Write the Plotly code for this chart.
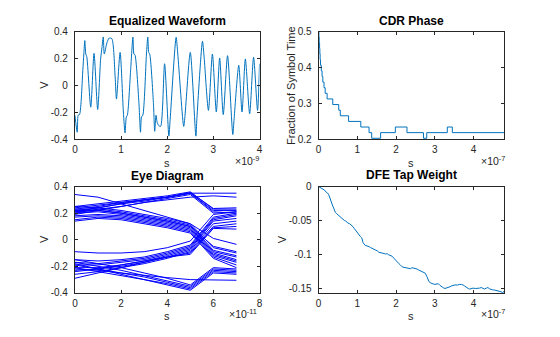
import plotly.graph_objects as go

W, H = 560, 337

# ---------------- data ----------------
# Equalized waveform (time in 1e-9 s, volts)
WAVE_T = [0, 0.05, 0.071, 0.1, 0.171, 0.193, 0.214, 0.236, 0.257, 0.343, 0.414, 0.493, 0.557, 0.586,
          0.614, 0.636, 0.693, 0.743, 0.8, 0.871, 0.9, 0.979, 1.05, 1.086, 1.114, 1.136, 1.207, 1.257,
          1.279, 1.3, 1.386, 1.421, 1.443, 1.471, 1.55, 1.579, 1.6, 1.621, 1.7, 1.729, 1.757, 1.779,
          1.814, 1.857, 1.943, 2.036, 2.064, 2.193, 2.229, 2.357, 2.386, 2.5, 2.621, 2.643, 2.764,
          2.8, 2.893, 2.979, 3.064, 3.136, 3.214, 3.307, 3.421, 3.45, 3.55, 3.621, 3.693, 3.786,
          3.871, 3.957, 4.0]
WAVE_V = [-0.221, -0.347, -0.221, -0.216, 0.113, 0.233, 0.333, 0.233, 0.214, -0.161, 0.238, -0.178,
          0.197, 0.281, 0.360, 0.233, 0.316, 0.352, 0.347, 0.066, -0.101, 0.245, -0.197, -0.352,
          -0.233, -0.221, 0.113, 0.359, 0.233, 0.228, -0.125, -0.347, -0.233, -0.221, 0.233, 0.359,
          0.245, 0.233, -0.125, -0.340, -0.221, -0.269, -0.297, -0.304, 0.161, -0.376, -0.250, 0.357,
          0.233, -0.304, -0.221, 0.245, -0.376, -0.245, 0.328, 0.209, -0.185, 0.233, -0.197, 0.204,
          -0.216, 0.221, -0.364, -0.245, 0.149, -0.197, 0.197, -0.209, 0.209, -0.185, 0.161]

# CDR phase (time in 1e-7 s, fraction of symbol time), stepwise
CDR_T = [0, 0.008, 0.016, 0.026, 0.033, 0.04, 0.05, 0.07, 0.09, 0.11, 0.14, 0.17, 0.22, 0.366,
         0.52, 0.56, 0.774, 1.089, 1.302, 1.37, 1.6, 1.98, 2.28, 2.706, 2.79, 3.32, 3.45, 4.79]
CDR_V = [0.5, 0.484375, 0.46875, 0.453125, 0.4375, 0.421875, 0.40625, 0.390625, 0.375, 0.359375,
         0.34375, 0.328125, 0.3125, 0.296875, 0.28125, 0.265625, 0.25, 0.234375, 0.21875, 0.203125,
         0.21875, 0.234375, 0.21875, 0.203125, 0.21875, 0.234375, 0.21875, 0.21875]

# Eye diagram (time in 1e-11 s), one list of volts per trace
EYE_T = [0, 1, 2, 3, 4, 5, 6, 7]
EYE_TRACES = [
    [0.25, 0.27, 0.29, 0.31, 0.33, 0.36, 0.23, 0.23],
    [0.23, 0.25, 0.28, 0.30, 0.32, 0.35, 0.22, 0.22],
    [0.21, 0.24, 0.27, 0.29, 0.32, 0.35, 0.21, 0.20],
    [0.19, 0.22, 0.25, 0.28, 0.31, 0.34, 0.20, 0.21],
    [0.22, 0.24, 0.27, 0.30, 0.32, 0.355, 0.235, 0.24],
    [0.24, 0.26, 0.28, 0.30, 0.32, 0.35, 0.35, 0.35],
    [0.20, 0.23, 0.25, 0.28, 0.30, 0.32, 0.33, 0.32],
    [0.34, 0.32, 0.27, 0.22, 0.17, 0.12, 0.01, -0.035],
    [0.25, 0.24, 0.22, 0.19, 0.16, 0.12, -0.06, -0.10],
    [0.23, 0.23, 0.21, 0.18, 0.15, 0.11, -0.08, -0.12],
    [0.21, 0.22, 0.20, 0.17, 0.14, 0.10, -0.09, -0.13],
    [0.20, 0.21, 0.19, 0.16, 0.13, 0.09, -0.10, -0.15],
    [0.18, 0.19, 0.18, 0.15, 0.12, 0.08, -0.11, -0.16],
    [0.17, 0.18, 0.17, 0.14, 0.11, 0.07, -0.12, -0.17],
    [0.15, 0.17, 0.16, 0.13, 0.10, 0.06, -0.13, -0.19],
    [0.14, 0.16, 0.15, 0.12, 0.09, 0.05, -0.14, -0.21],
    [0.22, 0.22, 0.20, 0.17, 0.14, 0.10, -0.05, -0.09],
    [-0.09, -0.10, -0.10, -0.09, -0.06, -0.01, 0.19, 0.21],
    [-0.15, -0.16, -0.15, -0.13, -0.09, -0.04, 0.17, 0.20],
    [-0.17, -0.18, -0.16, -0.14, -0.10, -0.05, 0.16, 0.19],
    [-0.19, -0.19, -0.17, -0.15, -0.11, -0.06, 0.15, 0.18],
    [-0.21, -0.21, -0.19, -0.16, -0.12, -0.07, 0.14, 0.16],
    [-0.23, -0.22, -0.20, -0.17, -0.13, -0.08, 0.12, 0.14],
    [-0.26, -0.24, -0.21, -0.18, -0.14, -0.09, 0.10, 0.12],
    [-0.29, -0.25, -0.21, -0.17, -0.13, -0.10, 0.09, 0.10],
    [-0.24, -0.22, -0.19, -0.16, -0.13, -0.11, 0.085, 0.08],
    [-0.15, -0.18, -0.21, -0.25, -0.29, -0.34, -0.21, -0.22],
    [-0.17, -0.20, -0.23, -0.27, -0.31, -0.35, -0.22, -0.23],
    [-0.19, -0.22, -0.25, -0.28, -0.32, -0.36, -0.23, -0.24],
    [-0.21, -0.24, -0.27, -0.30, -0.33, -0.37, -0.24, -0.25],
    [-0.18, -0.22, -0.26, -0.30, -0.34, -0.38, -0.25, -0.26],
    [-0.22, -0.23, -0.25, -0.27, -0.285, -0.30, -0.305, -0.305],
]

# DFE tap weight (time in 1e-7 s)
DFE_T = [0, 0.05, 0.1, 0.153, 0.2, 0.23, 0.264, 0.29, 0.323, 0.345, 0.366, 0.40, 0.434, 0.47, 0.519,
         0.55, 0.579, 0.62, 0.664, 0.70, 0.749, 0.80, 0.86, 0.89, 0.919, 0.96, 1.004, 1.047, 1.08,
         1.115, 1.149, 1.2, 1.25, 1.302, 1.34, 1.387, 1.44, 1.489, 1.52, 1.557, 1.60, 1.643, 1.69,
         1.728, 1.77, 1.813, 1.86, 1.898, 1.94, 1.983, 2.03, 2.068, 2.11, 2.153, 2.2, 2.238, 2.28,
         2.323, 2.37, 2.409, 2.45, 2.494, 2.54, 2.579, 2.62, 2.664, 2.71, 2.749, 2.791, 2.82, 2.851,
         2.88, 2.919, 2.96, 3.004, 3.05, 3.089, 3.13, 3.174, 3.22, 3.26, 3.30, 3.345, 3.39, 3.43,
         3.47, 3.515, 3.58, 3.643, 3.69, 3.728, 3.77, 3.813, 3.86, 3.898, 3.94, 3.983, 4.05, 4.111,
         4.15, 4.196, 4.24, 4.281, 4.32, 4.366, 4.41, 4.451, 4.49, 4.536, 4.58, 4.621, 4.66, 4.706,
         4.749, 4.791]
DFE_V = [0, -0.0015, -0.003, -0.0052, -0.0085, -0.0095, -0.0122, -0.017, -0.0216, -0.025, -0.0286,
         -0.033, -0.038, -0.040, -0.0426, -0.0445, -0.045, -0.0475, -0.0497, -0.0505, -0.0534,
         -0.0545, -0.0567, -0.059, -0.0614, -0.065, -0.0684, -0.0722, -0.0735, -0.0754, -0.0825,
         -0.0862, -0.0868, -0.0881, -0.0895, -0.0909, -0.0915, -0.0928, -0.0945, -0.0965, -0.0968,
         -0.0975, -0.0982, -0.0989, -0.0985, -0.1003, -0.101, -0.1022, -0.105, -0.1082, -0.111,
         -0.1129, -0.115, -0.1176, -0.1185, -0.119, -0.1195, -0.12, -0.1205, -0.119, -0.1195, -0.12,
         -0.121, -0.1223, -0.1235, -0.1246, -0.126, -0.127, -0.1317, -0.136, -0.1396, -0.141,
         -0.1425, -0.143, -0.1434, -0.1428, -0.1425, -0.145, -0.1471, -0.1485, -0.1495, -0.149,
         -0.1481, -0.147, -0.1457, -0.145, -0.1443, -0.1445, -0.1434, -0.1438, -0.1443, -0.146,
         -0.1481, -0.1495, -0.1504, -0.1497, -0.149, -0.1495, -0.1495, -0.149, -0.1481, -0.1495,
         -0.1504, -0.1492, -0.1481, -0.150, -0.1514, -0.1515, -0.1518, -0.1522, -0.1528, -0.1535,
         -0.1542, -0.156, -0.1528]

# ---------------- figure ----------------
BLUE = "#0072BD"
AX = "#262626"
FONT = "Liberation Sans, Arial, sans-serif"

fig = go.Figure()
fig.add_trace(go.Scatter(x=[t * 1e-9 for t in WAVE_T], y=WAVE_V, mode="lines",
                         line=dict(color=BLUE, width=1, shape="spline", smoothing=0.7),
                         xaxis="x", yaxis="y", showlegend=False))
fig.add_trace(go.Scatter(x=[t * 1e-7 for t in CDR_T], y=CDR_V, mode="lines",
                         line=dict(color=BLUE, width=1, shape="hv"),
                         xaxis="x2", yaxis="y2", showlegend=False))
for tr in EYE_TRACES:
    fig.add_trace(go.Scatter(x=[t * 1e-11 for t in EYE_T], y=tr, mode="lines",
                             line=dict(color="#0000FF", width=1),
                             xaxis="x3", yaxis="y3", showlegend=False))
fig.add_trace(go.Scatter(x=[t * 1e-7 for t in DFE_T], y=DFE_V, mode="lines",
                         line=dict(color=BLUE, width=1),
                         xaxis="x4", yaxis="y4", showlegend=False))

XL = [72.7 / W, 259.3 / W]
XR = [319.0 / W, 506.7 / W]
YT = [1 - 138.3 / H, 1 - 26.5 / H]
YB = [1 - 297.5 / H, 1 - 187.2 / H]


def ax(domain, rng, tickvals, ticktext, anchor, standoff):
    return dict(domain=domain, range=rng, tickvals=tickvals, ticktext=ticktext, anchor=anchor,
                showline=True, linecolor=AX, linewidth=1, mirror="ticks", ticks="inside",
                ticklen=3, tickcolor=AX, showgrid=False, zeroline=False,
                tickfont=dict(family=FONT, size=10, color=AX), ticklabelstandoff=standoff)


layout = dict(
    width=W, height=H, margin=dict(l=0, r=0, t=0, b=0),
    paper_bgcolor="white", plot_bgcolor="white",
    font=dict(family=FONT, size=10, color=AX),
    xaxis=ax(XL, [0, 4e-9], [0, 1e-9, 2e-9, 3e-9, 4e-9], ["0", "1", "2", "3", "4"], "y", 1),
    yaxis=ax(YT, [-0.4, 0.4], [-0.4, -0.2, 0, 0.2, 0.4], ["-0.4", "-0.2", "0", "0.2", "0.4"], "x", 4),
    xaxis2=ax(XR, [0, 4.79e-7], [0, 1e-7, 2e-7, 3e-7, 4e-7], ["0", "1", "2", "3", "4"], "y2", 1),
    yaxis2=ax(YT, [0.2, 0.5], [0.2, 0.3, 0.4, 0.5], ["0.2", "0.3", "0.4", "0.5"], "x2", 4),
    xaxis3=ax(XL, [0, 8e-11], [0, 2e-11, 4e-11, 6e-11, 8e-11], ["0", "2", "4", "6", "8"], "y3", 1),
    yaxis3=ax(YB, [-0.4, 0.4], [-0.4, -0.2, 0, 0.2, 0.4], ["-0.4", "-0.2", "0", "0.2", "0.4"], "x3", 4),
    xaxis4=ax(XR, [0, 4.79e-7], [0, 1e-7, 2e-7, 3e-7, 4e-7], ["0", "1", "2", "3", "4"], "y4", 1),
    yaxis4=ax(YB, [-0.156, 0], [-0.15, -0.1, -0.05, 0], ["-0.15", "-0.1", "-0.05", "0"], "x4", 4),
)
fig.update_layout(**layout)


def ann(text, px, py, size=11, bold=False, angle=0, xanchor="center", color=AX):
    if bold:
        text = "<b>" + text + "</b>"
    fig.add_annotation(text=text, x=px / W, y=1 - py / H, xref="paper", yref="paper",
                       showarrow=False, textangle=angle, xanchor=xanchor, yanchor="middle",
                       font=dict(family=FONT, size=size, color=color))


cxl = (XL[0] + XL[1]) / 2 * W
cxr = (XR[0] + XR[1]) / 2 * W
ann("Equalized Waveform", cxl, 15.5, size=12, bold=True, color="#000000")
ann("CDR Phase", cxr, 15.5, size=12, bold=True, color="#000000")
ann("Eye Diagram", cxl, 176, size=12, bold=True, color="#000000")
ann("DFE Tap Weight", cxr, 175.5, size=12, bold=True, color="#000000")
ann("s", cxl, 162.5)
ann("s", cxr, 162.5)
ann("s", cxl, 321.5)
ann("s", cxr, 321.5)
ann("V", 42, 82, angle=-90)
ann("V", 42, 242, angle=-90)
ann("Fraction of Symbol Time", 291, 82, angle=-90)
ann("V", 282, 242, angle=-90)
ann("×10<sup>-9</sup>", 261, 160, size=10.5, xanchor="right")
ann("×10<sup>-7</sup>", 509, 160, size=10.5, xanchor="right")
ann("×10<sup>-11</sup>", 259, 319, size=10.5, xanchor="right")
ann("×10<sup>-7</sup>", 509, 319, size=10.5, xanchor="right")

fig.write_html("out.html")
